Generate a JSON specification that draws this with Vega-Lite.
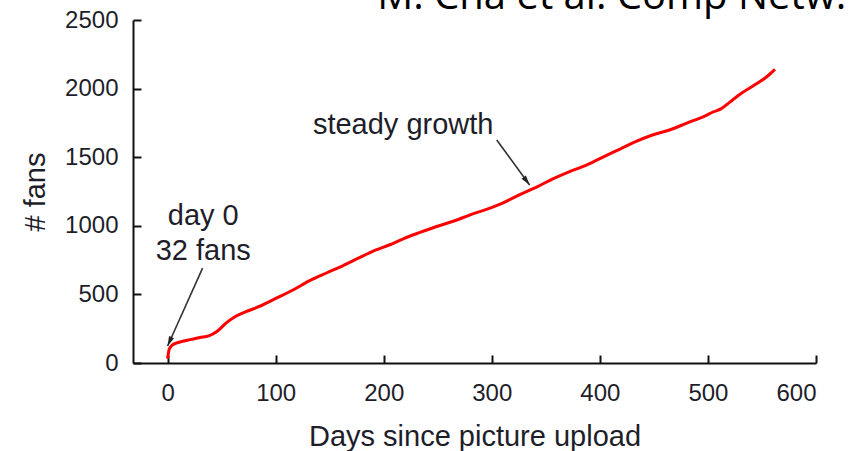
{
  "$schema": "https://vega.github.io/schema/vega-lite/v6.json",
  "width": 683,
  "height": 343,
  "autosize": "none",
  "padding": {"left": 133, "top": 20, "right": 36, "bottom": 88},
  "background": "white",
  "config": {
    "view": {"stroke": null},
    "font": "Liberation Sans",
    "axis": {
      "grid": false,
      "domainColor": "#111",
      "domainWidth": 2,
      "tickColor": "#111",
      "tickWidth": 2,
      "tickSize": -8,
      "format": "d",
      "labelFont": "Liberation Sans",
      "labelFontSize": 24,
      "labelColor": "#1e1e2a",
      "titleFont": "Liberation Sans",
      "titleFontSize": 29,
      "titleFontWeight": "normal",
      "titleColor": "#1e1e2a"
    }
  },
  "datasets": {
    "fans": [
      {"day": 0, "fans": 32},
      {"day": 1.5, "fans": 100},
      {"day": 4, "fans": 128},
      {"day": 8, "fans": 145},
      {"day": 14, "fans": 158},
      {"day": 22, "fans": 172},
      {"day": 30, "fans": 186},
      {"day": 38, "fans": 198},
      {"day": 46, "fans": 232},
      {"day": 54, "fans": 290},
      {"day": 62, "fans": 335},
      {"day": 72, "fans": 372},
      {"day": 85, "fans": 412},
      {"day": 101, "fans": 474},
      {"day": 116, "fans": 532},
      {"day": 131, "fans": 598},
      {"day": 147, "fans": 656},
      {"day": 162, "fans": 708},
      {"day": 178, "fans": 770},
      {"day": 193, "fans": 825},
      {"day": 205, "fans": 860},
      {"day": 218, "fans": 905},
      {"day": 233, "fans": 950},
      {"day": 249, "fans": 995},
      {"day": 265, "fans": 1035},
      {"day": 280, "fans": 1080},
      {"day": 295, "fans": 1120},
      {"day": 310, "fans": 1166},
      {"day": 326, "fans": 1228},
      {"day": 341, "fans": 1280},
      {"day": 356, "fans": 1340},
      {"day": 372, "fans": 1395},
      {"day": 387, "fans": 1440},
      {"day": 400, "fans": 1490},
      {"day": 416, "fans": 1550},
      {"day": 432, "fans": 1610},
      {"day": 448, "fans": 1660},
      {"day": 465, "fans": 1700},
      {"day": 481, "fans": 1750},
      {"day": 497, "fans": 1800},
      {"day": 505, "fans": 1830},
      {"day": 512, "fans": 1852},
      {"day": 520, "fans": 1900},
      {"day": 530, "fans": 1960},
      {"day": 546, "fans": 2040},
      {"day": 555, "fans": 2090},
      {"day": 562, "fans": 2140}
    ],
    "notes": [
      {"label": ["day 0", "32 fans"], "day": 33, "fans": 1006},
      {"label": ["steady growth"], "day": 218, "fans": 1669}
    ],
    "arrowDay0": [{"day": 32.4, "fans": 692, "day2": 0, "fans2": 124}],
    "arrowSteady": [{"day": 304.6, "fans": 1625, "day2": 335, "fans2": 1298}],
    "source": [{"text": "M. Cha et al. Comp Netw.", "day": 194, "fans": 2578}]
  },
  "encoding": {
    "x": {
      "field": "day",
      "type": "quantitative",
      "scale": {"domain": [-32, 600], "nice": false, "zero": false},
      "axis": {
        "title": "Days since picture upload",
        "values": [0, 100, 200, 300, 400, 500, 600],
        "labelPadding": 26,
        "titlePadding": 17
      }
    },
    "y": {
      "field": "fans",
      "type": "quantitative",
      "scale": {"domain": [0, 2500], "nice": false},
      "axis": {
        "title": "# fans",
        "values": [0, 500, 1000, 1500, 2000, 2500],
        "labelPadding": 23,
        "titlePadding": 14
      }
    }
  },
  "layer": [
    {
      "data": {"name": "fans"},
      "mark": {"type": "line", "color": "#ff0000", "strokeWidth": 3, "interpolate": "monotone"}
    },
    {
      "data": {"name": "arrowDay0"},
      "mark": {"type": "rule", "color": "#333", "strokeWidth": 1.6},
      "encoding": {"x2": {"field": "day2"}, "y2": {"field": "fans2"}}
    },
    {
      "data": {"name": "arrowDay0"},
      "mark": {"type": "point", "shape": "M0,0L0.45,1.6L-0.45,1.6Z", "size": 150, "filled": true, "color": "#222", "opacity": 1, "angle": 204},
      "encoding": {"x": {"field": "day2", "type": "quantitative"}, "y": {"field": "fans2", "type": "quantitative"}}
    },
    {
      "data": {"name": "arrowSteady"},
      "mark": {"type": "rule", "color": "#333", "strokeWidth": 1.6},
      "encoding": {"x2": {"field": "day2"}, "y2": {"field": "fans2"}}
    },
    {
      "data": {"name": "arrowSteady"},
      "mark": {"type": "point", "shape": "M0,0L0.45,1.6L-0.45,1.6Z", "size": 150, "filled": true, "color": "#222", "opacity": 1, "angle": 143},
      "encoding": {"x": {"field": "day2", "type": "quantitative"}, "y": {"field": "fans2", "type": "quantitative"}}
    },
    {
      "data": {"name": "notes"},
      "mark": {"type": "text", "font": "Liberation Sans", "fontSize": 29, "color": "#1e1e2a", "align": "center", "baseline": "alphabetic", "lineHeight": 35},
      "encoding": {"text": {"field": "label"}}
    },
    {
      "data": {"name": "source"},
      "mark": {"type": "text", "font": "Open Sans", "fontSize": 40, "color": "#000", "align": "left", "baseline": "alphabetic"},
      "encoding": {"text": {"field": "text"}}
    }
  ]
}
